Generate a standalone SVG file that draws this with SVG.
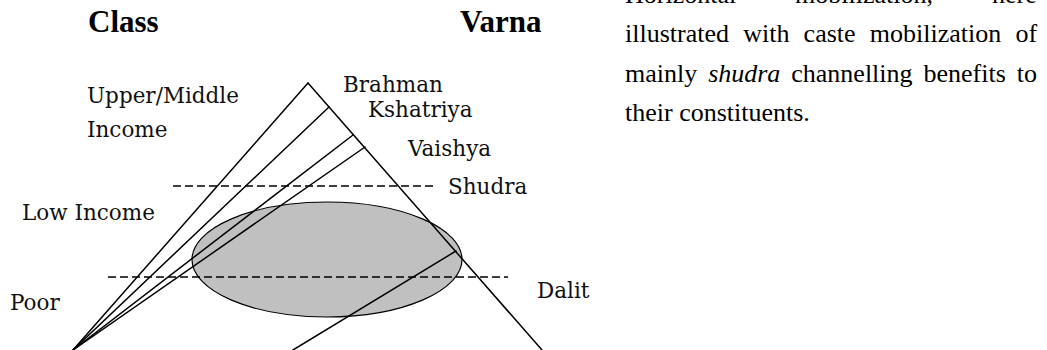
<svg xmlns="http://www.w3.org/2000/svg" width="1047" height="350" viewBox="0 0 1047 350">
<style>
.bg{fill:#ffffff}
.ln{stroke:#000;stroke-width:1.5;fill:none;stroke-linecap:round}
.dash{stroke:#000;stroke-width:1.5;fill:none;stroke-dasharray:8 4}
.lbl{font-family:"DejaVu Serif","Liberation Serif",serif;font-size:21.5px;fill:#111}
.head{font-family:"Liberation Serif","Times New Roman",serif;font-size:31px;font-weight:bold;fill:#000}
.para{font-family:"Liberation Serif","Times New Roman",serif;font-size:26px;fill:#000}
</style>
<rect class="bg" x="0" y="0" width="1047" height="350"/>
<g id="group-ellipse">
<ellipse cx="327" cy="259.5" rx="135" ry="57.5" fill="#c0c0c0" stroke="#000" stroke-width="1.2"/>
</g>
<g id="connectors">
<line class="ln" x1="73" y1="350" x2="308" y2="83"/>
<line class="ln" x1="308" y1="83" x2="542" y2="350"/>
<line class="ln" x1="73" y1="350" x2="329" y2="107"/>
<line class="ln" x1="73" y1="350" x2="353" y2="135"/>
<line class="ln" x1="73" y1="350" x2="365" y2="147"/>
<line class="ln" x1="293" y1="350" x2="456" y2="251"/>
<line class="dash" x1="173" y1="186" x2="433" y2="186"/>
<line class="dash" x1="108" y1="277" x2="508" y2="277"/>
</g>
<g id="header-class"><text class="head" x="88" y="32">Class</text></g>
<g id="header-varna"><text class="head" x="460" y="32">Varna</text></g>
<g id="label-upper"><text class="lbl" x="87" y="103">Upper/Middle</text><text class="lbl" x="87" y="137">Income</text></g>
<g id="label-low"><text class="lbl" x="22" y="220">Low Income</text></g>
<g id="label-poor"><text class="lbl" x="10" y="310">Poor</text></g>
<g id="label-brahman"><text class="lbl" x="343" y="92">Brahman</text></g>
<g id="label-kshatriya"><text class="lbl" x="368" y="117">Kshatriya</text></g>
<g id="label-vaishya"><text class="lbl" x="408" y="156">Vaishya</text></g>
<g id="label-shudra"><text class="lbl" x="448" y="194">Shudra</text></g>
<g id="label-dalit"><text class="lbl" x="537" y="298">Dalit</text></g>
<g id="paragraph">
<text class="para" y="2.5"><tspan x="625">Horizontal</tspan><tspan x="795">mobilization,</tspan><tspan x="992">here</tspan></text>
<text class="para" y="42" word-spacing="7.7"><tspan x="625">illustrated with caste mobilization of</tspan></text>
<text class="para" y="81.5" word-spacing="4.4"><tspan x="625">mainly <tspan font-style="italic">shudra</tspan> channelling benefits to</tspan></text>
<text class="para" x="625" y="121">their constituents.</text>
</g>
</svg>
